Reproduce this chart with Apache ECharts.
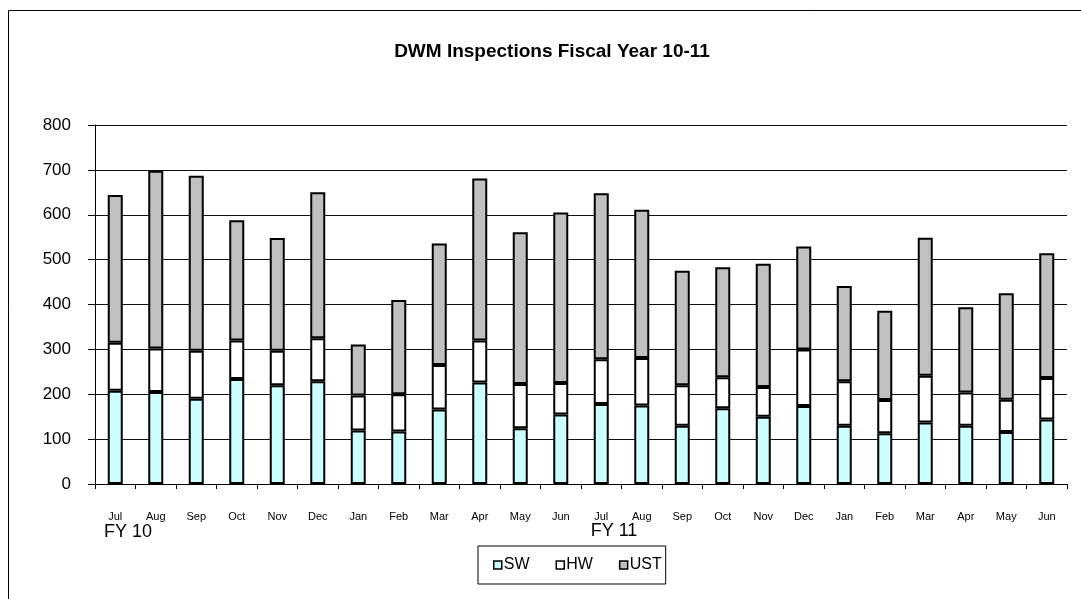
<!DOCTYPE html>
<html>
<head>
<meta charset="utf-8">
<script src="https://cdn.jsdelivr.net/npm/echarts@6/dist/echarts.min.js"></script>
<style>
  html, body { margin: 0; padding: 0; background: #fff; }
  #chart { width: 1081px; height: 599px; }
</style>
</head>
<body>
<div id="chart"></div>
<script>
// months Jul FY10 .. Jun FY11
var months = ['Jul', 'Aug', 'Sep', 'Oct', 'Nov', 'Dec', 'Jan', 'Feb', 'Mar', 'Apr', 'May', 'Jun',
  'Jul', 'Aug', 'Sep', 'Oct', 'Nov', 'Dec', 'Jan', 'Feb', 'Mar', 'Apr', 'May', 'Jun']
var sw = [208, 205, 190, 234, 220, 229, 119, 117, 166, 226, 124, 155,
  178, 175, 130, 169, 150, 174, 130, 113, 137, 130, 116, 144]
var hw = [107, 97, 107, 86, 77, 96, 78, 83, 99, 94, 99, 70,
  100, 106, 90, 69, 66, 126, 99, 74, 104, 74, 72, 92]
var ust = [329, 396, 390, 268, 251, 325, 114, 210, 271, 361, 338, 380,
  370, 330, 255, 245, 275, 229, 212, 199, 308, 190, 237, 278]
var yTicks = [0, 100, 200, 300, 400, 500, 600, 700, 800]

var font = 'Arial, "Liberation Sans", sans-serif'
var chart = echarts.init(document.getElementById('chart'))

function barSeries (name, data, color) {
  return {
    name: name,
    type: 'bar',
    stack: 'total',
    barWidth: 15,
    data: data,
    itemStyle: { color: color, borderColor: '#000', borderWidth: 2 }
  }
}

chart.setOption({
  animation: false,
  title: {
    text: 'DWM Inspections Fiscal Year 10-11',
    left: 547,
    top: 37,
    textAlign: 'center',
    textStyle: { fontFamily: font, fontSize: 19, fontWeight: 'bold', color: '#000' }
  },
  grid: { left: 95, right: 14, top: 125, bottom: 115 },
  legend: {
    left: 478,
    top: 546,
    padding: [11, 4, 11, 15],
    itemWidth: 8,
    itemHeight: 8,
    itemGap: 26,
    borderColor: '#000',
    borderWidth: 1,
    icon: 'rect',
    itemStyle: { borderWidth: 1.5 },
    textStyle: { fontFamily: font, fontSize: 16, color: '#000', padding: [0, 0, 0, -3] }
  },
  xAxis: {
    type: 'category',
    data: months,
    axisLine: { lineStyle: { color: '#000', width: 1 } },
    axisTick: { show: true, length: 5, lineStyle: { color: '#000' } },
    axisLabel: { fontFamily: font, fontSize: 11, color: '#000', margin: 27, interval: 0 }
  },
  yAxis: {
    type: 'value',
    min: yTicks[0],
    max: yTicks[yTicks.length - 1],
    interval: 100,
    axisLine: { show: true, lineStyle: { color: '#000' } },
    axisTick: { show: true, length: 7, lineStyle: { color: '#000' } },
    axisLabel: { fontFamily: font, fontSize: 17, color: '#000', margin: 24 },
    splitLine: { lineStyle: { color: '#111', width: 1 } }
  },
  series: [
    barSeries('SW', sw, '#CCFFFF'),
    barSeries('HW', hw, '#FFFFFF'),
    barSeries('UST', ust, '#C0C0C0')
  ],
  graphic: [
    { type: 'rect', shape: { x: 8.5, y: 10.5, width: 1200, height: 700 }, style: { fill: 'none', stroke: '#000', lineWidth: 1 } },
    { type: 'text', x: 128, y: 532, style: { text: 'FY 10', font: '18px ' + font, fill: '#000', textAlign: 'center', textVerticalAlign: 'middle' } },
    { type: 'text', x: 614, y: 531, style: { text: 'FY 11', font: '18px ' + font, fill: '#000', textAlign: 'center', textVerticalAlign: 'middle' } }
  ]
})
</script>
</body>
</html>
